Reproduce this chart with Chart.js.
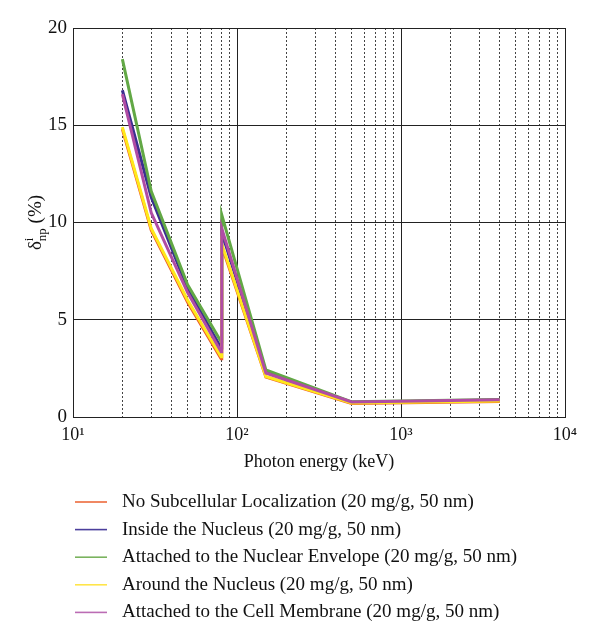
<!DOCTYPE html>
<html>
<head>
<meta charset="utf-8">
<script src="https://cdn.jsdelivr.net/npm/chart.js@4"></script>
<style>
  html, body { margin: 0; padding: 0; background: #fff; }
</style>
</head>
<body>
<canvas id="chart" width="600" height="644"></canvas>
<script>
// photon energy in keV (80 / 80.7 = both sides of the gold K-edge)
const energies = [20, 30, 50, 80, 80.7, 150, 500, 4000];

const noLocalization = [14.8, 9.6, 5.9, 3.0, 8.8, 2.05, 0.70, 0.80];
const insideNucleus = [16.8, 11.3, 6.6, 3.55, 9.5, 2.30, 0.75, 0.88];
const nuclearEnvelope = [18.4, 11.6, 6.8, 3.87, 10.4, 2.42, 0.78, 0.90];
const aroundNucleus = [14.9, 9.7, 6.0, 3.1, 8.9, 2.08, 0.72, 0.82];
const cellMembrane = [16.6, 10.5, 6.4, 3.36, 9.7, 2.26, 0.77, 0.89];

const seriesLabels = [
  'No Subcellular Localization (20 mg/g, 50 nm)',
  'Inside the Nucleus (20 mg/g, 50 nm)',
  'Attached to the Nuclear Envelope (20 mg/g, 50 nm)',
  'Around the Nucleus (20 mg/g, 50 nm)',
  'Attached to the Cell Membrane (20 mg/g, 50 nm)'
];
const seriesValues = [noLocalization, insideNucleus, nuclearEnvelope, aroundNucleus, cellMembrane];
const seriesColors = ['#ee5a2a', '#3a2f90', '#62a845', '#ffe81a', '#b04ca4'];
const legendColors = ['#ec6a3c', '#4b3f9c', '#7ab35e', '#ffe54a', '#bb6cb4'];
const drawOrder = [5, 4, 3, 2, 1];

const xTicks = [10, 20, 30, 40, 50, 60, 70, 80, 90,
  100, 200, 300, 400, 500, 600, 700, 800, 900,
  1000, 2000, 3000, 4000, 5000, 6000, 7000, 8000, 9000, 10000];
const decadeLabels = { 10: '10¹', 100: '10²', 1000: '10³', 10000: '10⁴' };
const yTicks = [0, 5, 10, 15, 20];

const FONT = "'Liberation Serif', 'Times New Roman', serif";

const isDecade = v => Object.prototype.hasOwnProperty.call(decadeLabels, v);

const yTitlePlugin = {
  id: 'yTitle',
  afterDraw(chart) {
    const { ctx, chartArea } = chart;
    const cy = (chartArea.top + chartArea.bottom) / 2;
    const parts = [
      { t: 'δ', size: 19, dy: 0 },
      { t: 'i', size: 13, dy: -8 },
      { t: 'np', size: 13, dy: 5 },
      { t: ' (%)', size: 19, dy: 0 }
    ];
    ctx.save();
    ctx.fillStyle = '#111';
    ctx.textBaseline = 'alphabetic';
    const widths = parts.map(p => {
      ctx.font = p.size + 'px ' + FONT;
      return ctx.measureText(p.t).width;
    });
    // i and np stack at the same spot
    const total = widths[0] + Math.max(widths[1], widths[2]) + widths[3];
    ctx.translate(41, cy);
    ctx.rotate(-Math.PI / 2);
    let x = -total / 2;
    ctx.font = parts[0].size + 'px ' + FONT;
    ctx.fillText(parts[0].t, x, 0);
    x += widths[0];
    ctx.font = parts[1].size + 'px ' + FONT;
    ctx.fillText(parts[1].t, x, parts[1].dy);
    ctx.fillText(parts[2].t, x, parts[2].dy);
    x += Math.max(widths[1], widths[2]);
    ctx.font = parts[3].size + 'px ' + FONT;
    ctx.fillText(parts[3].t, x, 0);
    ctx.restore();
  }
};

const legendPlugin = {
  id: 'bottomLegend',
  afterDraw(chart) {
    const { ctx, chartArea } = chart;
    ctx.save();
    ctx.font = '19px ' + FONT;
    ctx.textBaseline = 'middle';
    ctx.fillStyle = '#111';
    seriesLabels.forEach((label, i) => {
      const y = chartArea.bottom + 85 + i * 27.6;
      ctx.strokeStyle = legendColors[i];
      ctx.lineWidth = 1.6;
      ctx.beginPath();
      ctx.moveTo(75, y);
      ctx.lineTo(107, y);
      ctx.stroke();
      ctx.fillText(label, 122, y);
    });
    ctx.restore();
  }
};

new Chart(document.getElementById('chart'), {
  type: 'line',
  data: {
    datasets: seriesLabels.map((label, i) => ({
      label,
      data: energies.map((e, j) => ({ x: e, y: seriesValues[i][j] })),
      borderColor: seriesColors[i],
      borderWidth: 3,
      pointRadius: 0,
      tension: 0,
      fill: false,
      order: drawOrder[i]
    }))
  },
  options: {
    responsive: false,
    animation: false,
    layout: { padding: { left: 0, top: 28, right: 35, bottom: 157 } },
    plugins: {
      legend: { display: false },
      tooltip: { enabled: false }
    },
    scales: {
      x: {
        type: 'logarithmic',
        min: 10,
        max: 10000,
        afterBuildTicks: scale => { scale.ticks = xTicks.map(v => ({ value: v, major: isDecade(v) })); },
        afterFit: scale => { scale.height = 70; },
        ticks: {
          autoSkip: false,
          maxRotation: 0,
          padding: 7,
          color: '#111',
          font: { family: FONT, size: 18 },
          callback: v => decadeLabels[v] || ''
        },
        grid: {
          drawTicks: false,
          color: ctx => (ctx.tick && isDecade(ctx.tick.value)) ? '#222' : '#444',
          lineWidth: 1
        },
        border: {
          color: '#222',
          dash: ctx => (ctx.tick && !isDecade(ctx.tick.value)) ? [2, 2] : []
        },
        title: {
          display: true,
          text: 'Photon energy (keV)',
          color: '#111',
          font: { family: FONT, size: 18 },
          padding: { top: 0, bottom: 14 }
        }
      },
      y: {
        min: 0,
        max: 20,
        afterBuildTicks: scale => { scale.ticks = yTicks.map(v => ({ value: v })); },
        afterFit: scale => { scale.width = 73; },
        ticks: {
          padding: 6,
          color: '#111',
          font: { family: FONT, size: 19 }
        },
        grid: { drawTicks: false, color: '#222', lineWidth: 1 },
        border: { color: '#222' }
      }
    }
  },
  plugins: [yTitlePlugin, legendPlugin]
});
</script>
</body>
</html>
